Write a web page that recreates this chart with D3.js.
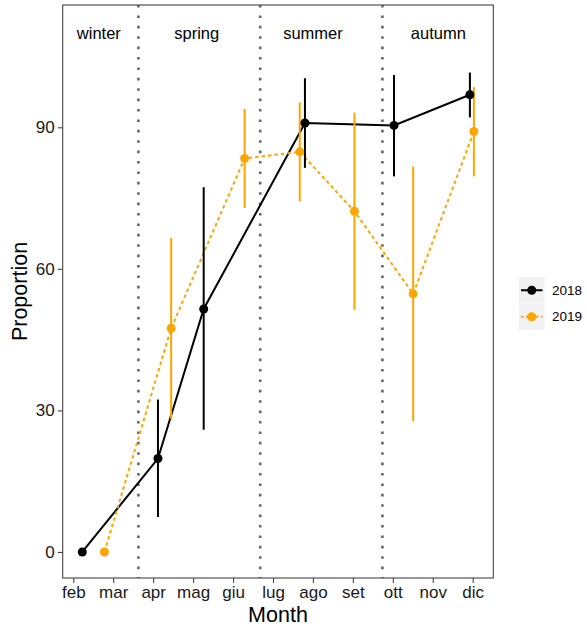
<!DOCTYPE html>
<html>
<head>
<meta charset="utf-8">
<script src="https://cdn.jsdelivr.net/npm/d3@7"></script>
<style>
  html, body { margin: 0; padding: 0; background: #fff; }
  svg { display: block; font-family: "Liberation Sans", Arial, Helvetica, sans-serif; }
</style>
</head>
<body>
<svg id="chart" width="587" height="627"></svg>
<script>
// ---- data ----
const monthTicks = [2, 3, 4, 5, 6, 7, 8, 9, 10, 11, 12];
const monthLabels = ["feb", "mar", "apr", "mag", "giu", "lug", "ago", "set", "ott", "nov", "dic"];
const yTicks = [0, 30, 60, 90];
const years = ["2018", "2019"];
const colors = ["#000000", "#FFA500"];

const x2018 = [2.225, 4.12, 5.265, 7.80, 10.03, 11.93];
const y2018 = [0, 19.8, 51.5, 90.9, 90.4, 96.9];
const lo2018 = [null, 7.4, 25.9, 81.4, 79.6, 92.1];
const hi2018 = [null, 32.3, 77.3, 100.4, 101.1, 101.6];

const x2019 = [2.78, 4.45, 6.29, 7.67, 9.04, 10.51, 12.03];
const y2019 = [0, 47.4, 83.4, 84.8, 72.2, 54.7, 89.1];
const lo2019 = [null, 28.2, 72.9, 74.3, 51.3, 27.7, 79.6];
const hi2019 = [null, 66.5, 93.9, 95.3, 93.1, 81.7, 98.5];

const seasonBreaks = [3.63, 6.68, 9.74];
const seasons = ["winter", "spring", "summer", "autumn"];
const seasonX = [2.64, 5.09, 8.0, 11.14];
const seasonY = 110;

// ---- build ----
const series = [
  { year: years[0], color: colors[0], dash: null, x: x2018, y: y2018, lo: lo2018, hi: hi2018 },
  { year: years[1], color: colors[1], dash: "3.5,3", x: x2019, y: y2019, lo: lo2019, hi: hi2019 }
].map(s => ({ ...s, pts: s.x.map((xv, i) => ({ x: xv, y: s.y[i], lo: s.lo[i], hi: s.hi[i] })) }));

const P = { left: 62.7, right: 493.3, top: 5, bottom: 578 };
const x = d3.scaleLinear().domain([1.735, 12.516]).range([P.left, P.right]);
const y = d3.scaleLinear().domain([-5.52, 115.92]).range([P.bottom, P.top]);

const svg = d3.select("#chart");

// season dividers
svg.append("g").selectAll("line").data(seasonBreaks).join("line")
  .attr("x1", d => x(d)).attr("x2", d => x(d))
  .attr("y1", P.top).attr("y2", P.bottom)
  .attr("stroke", "#666").attr("stroke-width", 2.6)
  .attr("stroke-dasharray", "2.6,7.8");

// season labels
svg.append("g").selectAll("text").data(seasons).join("text")
  .attr("x", (d, i) => x(seasonX[i])).attr("y", y(seasonY))
  .attr("dy", "0.35em")
  .attr("text-anchor", "middle")
  .attr("font-size", 16.5).attr("fill", "#000")
  .text(d => d);

const line = d3.line().x(d => x(d.x)).y(d => y(d.y));

// lines
series.forEach(s => {
  svg.append("path").datum(s.pts)
    .attr("d", line).attr("fill", "none")
    .attr("stroke", s.color).attr("stroke-width", 2)
    .attr("stroke-dasharray", s.dash);
});
// error bars
series.forEach(s => {
  svg.append("g").selectAll("line").data(s.pts.filter(d => d.lo != null)).join("line")
    .attr("x1", d => x(d.x)).attr("x2", d => x(d.x))
    .attr("y1", d => y(d.lo)).attr("y2", d => y(d.hi))
    .attr("stroke", s.color).attr("stroke-width", 2);
});
// points
series.forEach(s => {
  svg.append("g").selectAll("circle").data(s.pts).join("circle")
    .attr("cx", d => x(d.x)).attr("cy", d => y(d.y)).attr("r", 4.5)
    .attr("fill", s.color);
});

// panel border
svg.append("rect")
  .attr("x", P.left).attr("y", P.top)
  .attr("width", P.right - P.left).attr("height", P.bottom - P.top)
  .attr("fill", "none").attr("stroke", "#444").attr("stroke-width", 1.1);

// axes
const xAxis = svg.append("g").attr("transform", `translate(0,${P.bottom})`)
  .call(d3.axisBottom(x).tickValues(monthTicks).tickFormat((d, i) => monthLabels[i])
    .tickSize(5).tickSizeOuter(0).tickPadding(3));
xAxis.select(".domain").remove();
xAxis.selectAll(".tick line").attr("stroke", "#444").attr("stroke-width", 1.1);
xAxis.selectAll(".tick text").attr("font-size", 17).attr("fill", "#1a1a1a")
  .attr("font-family", "Liberation Sans, Arial, sans-serif");

const yAxis = svg.append("g").attr("transform", `translate(${P.left},0)`)
  .call(d3.axisLeft(y).tickValues(yTicks).tickSize(5).tickSizeOuter(0).tickPadding(3));
yAxis.select(".domain").remove();
yAxis.selectAll(".tick line").attr("stroke", "#444").attr("stroke-width", 1.1);
yAxis.selectAll(".tick text").attr("font-size", 17).attr("fill", "#1a1a1a")
  .attr("font-family", "Liberation Sans, Arial, sans-serif");

// axis titles
svg.append("text").attr("x", (P.left + P.right) / 2).attr("y", 622)
  .attr("text-anchor", "middle").attr("font-size", 21.5).attr("fill", "#000").text("Month");
svg.append("text").attr("transform", `translate(27,${(P.top + P.bottom) / 2}) rotate(-90)`)
  .attr("text-anchor", "middle").attr("font-size", 21.5).attr("fill", "#000").text("Proportion");

// legend
const lg = svg.append("g").attr("transform", "translate(519,277)");
series.forEach((s, i) => {
  const g = lg.append("g").attr("transform", `translate(0,${i * 26.5})`);
  g.append("rect").attr("width", 25.5).attr("height", 26.5).attr("fill", "#F2F2F2");
  g.append("line").attr("x1", 2).attr("x2", 23.5).attr("y1", 13.25).attr("y2", 13.25)
    .attr("stroke", s.color).attr("stroke-width", 2).attr("stroke-dasharray", s.dash ? "2.5,2.5" : null);
  g.append("circle").attr("cx", 12.75).attr("cy", 13.25).attr("r", 4.5).attr("fill", s.color);
  g.append("text").attr("x", 33).attr("y", 13.25).attr("dy", "0.35em")
    .attr("font-size", 13.5).attr("fill", "#000").text(s.year);
});
</script>
</body>
</html>
